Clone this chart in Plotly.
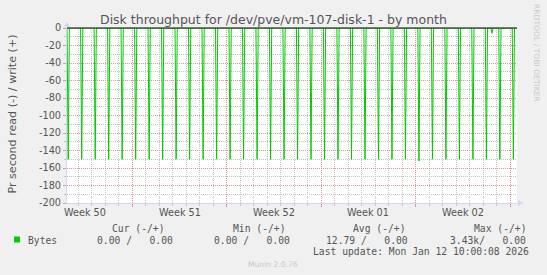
import plotly.graph_objects as go
from datetime import datetime, timedelta

# ---------------- data ----------------
spike_times = [
    "2025-12-10 06:00", "2025-12-11 06:00", "2025-12-12 06:00", "2025-12-13 06:00",
    "2025-12-14 06:00", "2025-12-15 06:00", "2025-12-16 06:00", "2025-12-17 06:00",
    "2025-12-18 06:00", "2025-12-19 06:00", "2025-12-20 06:00", "2025-12-21 06:00",
    "2025-12-22 06:00", "2025-12-23 06:00", "2025-12-24 06:00", "2025-12-25 06:00",
    "2025-12-26 06:00", "2025-12-27 06:00", "2025-12-28 06:00", "2025-12-29 06:00",
    "2025-12-30 06:00", "2025-12-31 06:00", "2026-01-01 06:00", "2026-01-02 06:00",
    "2026-01-03 06:00", "2026-01-04 06:00", "2026-01-05 06:00", "2026-01-06 06:00",
    "2026-01-07 06:00", "2026-01-08 06:00", "2026-01-09 06:00", "2026-01-10 06:00",
    "2026-01-10 16:00", "2026-01-11 06:00", "2026-01-12 06:00",
]
spike_values = [
    -150, -150, -150, -150,
    -150, -150, -150, -150,
    -150, -150, -150, -150,
    -150, -150, -150, -150,
    -150, -150, -150, -150,
    -150, -150, -150, -150,
    -150, -150, -152, -150,
    -150, -150, -150, -150,
    -6, -150, -150,
]
baseline_value = 0
step_hours = 2

week_label_pos = ["2025-12-11 12:00", "2025-12-18 12:00", "2025-12-25 12:00",
                  "2026-01-01 12:00", "2026-01-08 12:00"]
week_labels = ["Week 50", "Week 51", "Week 52", "Week 01", "Week 02"]
week_starts = ["2025-12-15", "2025-12-22", "2025-12-29", "2026-01-05", "2026-01-12"]

y_ticks = [0, -20, -40, -60, -80, -100, -120, -140, -160, -180, -200]
y_ticktext = ["0", "-20", "-40", "-60", "-80", "-100", "-120", "-140", "-160", "-180", "-200"]

title_text = "Disk throughput for /dev/pve/vm-107-disk-1 - by month"
y_title = "Pr second read (-) / write (+)"
series_name = "Bytes"
legend_headers = ["Cur (-/+)", "Min (-/+)", "Avg (-/+)", "Max (-/+)"]
legend_values = ["0.00 /   0.00", "0.00 /   0.00", "12.79 /   0.00", "3.43k/   0.00"]
last_update = "Last update: Mon Jan 12 10:00:08 2026"
version_text = "Munin 2.0.76"
watermark = "RRDTOOL / TOBI OETIKER"

x_range = ["2025-12-10 03:49", "2026-01-12 12:27"]

# ---------------- build line ----------------
fmt = "%Y-%m-%d %H:%M"
xs = [datetime.strptime(x_range[0], fmt)]
ys = [baseline_value]
for t, v in zip(spike_times, spike_values):
    dt = datetime.strptime(t, fmt)
    xs += [dt - timedelta(hours=step_hours), dt, dt + timedelta(hours=step_hours)]
    ys += [baseline_value, v, baseline_value]
xs.append(datetime.strptime(x_range[1], fmt))
ys.append(baseline_value)

# ---------------- layout helpers ----------------
W, H = 547, 275
L, R, T, B = 67, 30, 28, 72
PW, PH = W - L - R, H - T - B

def px(x):
    return (x - L) / PW

def py(y):
    return (H - B - y) / PH

FONT = "DejaVu Sans"
MONO = "DejaVu Sans Mono"
TXT = "#555555"
GREEN = "#00CC00"
AXISC = "#CFD6F8"
MGRID = "#E09494"
GRID = "#C4C4C4"

fig = go.Figure()
fig.add_trace(go.Scatter(x=xs, y=ys, mode="lines",
                         line=dict(color=GREEN, width=1),
                         name=series_name, showlegend=False, hoverinfo="skip"))

fig.update_layout(
    width=W, height=H,
    margin=dict(l=L, r=R, t=T, b=B, pad=0),
    paper_bgcolor="#F0F0F0",
    plot_bgcolor="#FFFFFF",
    showlegend=False,
    font=dict(family=FONT, size=9.7, color=TXT),
)

fig.update_xaxes(
    type="date", range=x_range,
    tickvals=week_starts, ticktext=[""] * len(week_starts),
    showgrid=True, gridcolor=MGRID, griddash="1px,1px", gridwidth=1,
    ticks="outside", ticklen=3, tickcolor=MGRID, tickwidth=1,
    showline=True, linecolor=AXISC, linewidth=1,
    zeroline=False,
    minor=dict(dtick=86400000, tick0="2025-12-15", showgrid=True,
               gridcolor=GRID, griddash="1px,1px", gridwidth=1,
               ticks="outside", ticklen=2, tickcolor=GRID),
)
fig.update_yaxes(
    range=[-200, 0],
    tickvals=y_ticks, ticktext=y_ticktext,
    tickfont=dict(family=FONT, size=9.7, color=TXT),
    showgrid=True, gridcolor=MGRID, griddash="1px,1px", gridwidth=1,
    ticks="outside", ticklen=3, tickcolor=MGRID, tickwidth=1,
    showline=True, linecolor=AXISC, linewidth=1,
    zeroline=False,
    minor=dict(dtick=10, showgrid=True, gridcolor=GRID, griddash="1px,1px",
               gridwidth=1, ticks="outside", ticklen=2, tickcolor=GRID),
)

shapes = []
# zero rule along the top of the plot
shapes.append(dict(type="line", xref="paper", yref="paper", x0=0, x1=1, y0=1, y1=1,
                   line=dict(color="#000000", width=1)))
# axis arrows
shapes.append(dict(type="path", xref="paper", yref="paper",
                   path=f"M {px(64)} {py(27)} L {px(70)} {py(27)} L {px(67)} {py(21.5)} Z",
                   fillcolor=AXISC, line=dict(width=0)))
shapes.append(dict(type="path", xref="paper", yref="paper",
                   path=f"M {px(518)} {py(200)} L {px(518)} {py(206)} L {px(523.5)} {py(203)} Z",
                   fillcolor=AXISC, line=dict(width=0)))
# legend swatch
shapes.append(dict(type="rect", xref="paper", yref="paper",
                   x0=px(14), x1=px(20), y0=py(242.5), y1=py(236.5),
                   fillcolor=GREEN, line=dict(width=0)))
fig.update_layout(shapes=shapes)

ann = []
def text(x, y, s, size, family=FONT, color=TXT, xanchor="left", angle=0, xref="paper"):
    ann.append(dict(x=x, y=py(y), xref=xref, yref="paper", text=s, showarrow=False,
                    xanchor=xanchor, yanchor="middle", textangle=angle,
                    font=dict(family=family, size=size, color=color), borderpad=0))

text(px(273), 19, title_text, 12.5, xanchor="center")
text(px(11.5), 114, y_title, 11.1, xanchor="center", angle=-90)
for pos, lab in zip(week_label_pos, week_labels):
    text(pos, 212.5, lab, 9.7, xanchor="center", xref="x")

header_x = [111, 231.7, 352.3, 473]
value_x = [95.7, 212.7, 325, 449]
for hx, h in zip(header_x, legend_headers):
    text(px(hx), 228.5, h, 9.7, family=MONO)
text(px(26.7), 240, series_name, 9.7, family=MONO)
for vx, v in zip(value_x, legend_values):
    text(px(vx), 240, v, 9.7, family=MONO)
text(px(311.7), 251.5, last_update, 9.7, family=MONO)
text(px(272.5), 264, version_text, 7.6, color="#C8C8C8", xanchor="center")
text(px(537), 53, watermark, 7.6, color="#C8C8C8", xanchor="center", angle=90)

fig.update_layout(annotations=ann)

fig.write_html("out.html")
